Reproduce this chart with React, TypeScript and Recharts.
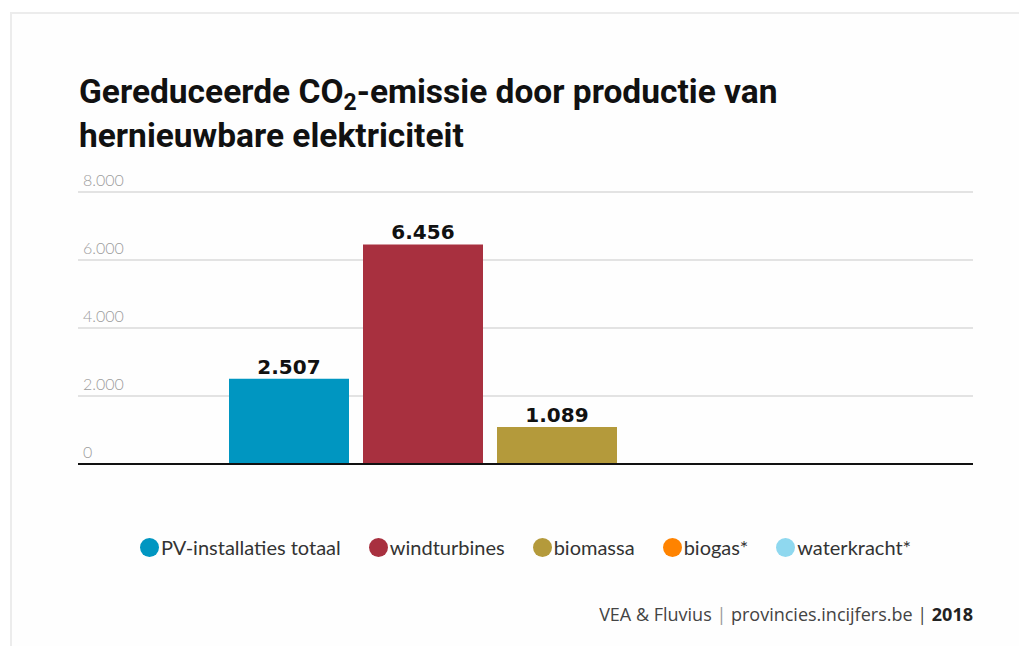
import React from 'react';
import { BarChart, Bar, XAxis, YAxis, CartesianGrid, LabelList, ReferenceLine } from 'recharts';

const categories = ['2018'];
const seriesKeys = ['pv', 'wind', 'biomassa', 'biogas', 'water'];
const seriesNames = ['PV-installaties totaal', 'windturbines', 'biomassa', 'biogas*', 'waterkracht*'];
const seriesColors = ['#0096c1', '#a8303f', '#b49a3b', '#ff8300', '#8fd8ef'];
const seriesValues: (number | null)[] = [2507, 6456, 1089, null, null];
const yTicks = [0, 2000, 4000, 6000, 8000];

const data = categories.map((name) => {
  const row: any = { name };
  seriesKeys.forEach((k, i) => {
    row[k] = seriesValues[i];
  });
  return row;
});

const fmt = (v: any) =>
  v == null ? '' : String(v).replace(/\B(?=(\d{3})+(?!\d))/g, '.');

const plotLeft = 78;
const plotRight = 973;
const plotTop = 192;
const plotBottom = 464;
const W = 1027;
const H = 654;

const renderYTick = (props: any) => {
  const { y, payload } = props;
  return (
    <text
      key={payload.value}
      x={plotLeft + 5}
      y={y - 6}
      fill="#9c9c9c"
      fontSize={16}
      fontFamily="Lato, sans-serif"
      fontWeight={300}
      textAnchor="start"
    >
      {fmt(payload.value)}
    </text>
  );
};

const ChartLegend = () => (
  <div
    style={{
      position: 'absolute',
      left: plotLeft,
      width: plotRight - plotLeft,
      top: 535,
      display: 'flex',
      justifyContent: 'center',
      alignItems: 'center',
      fontFamily: 'Lato, sans-serif',
      fontSize: 20,
      color: '#333',
    }}
  >
    {seriesNames.map((n, i) => (
      <div
        key={n}
        style={{ display: 'flex', alignItems: 'center', marginRight: i < seriesNames.length - 1 ? 28 : 0 }}
      >
        <span
          style={{
            display: 'inline-block',
            width: 19,
            height: 19,
            borderRadius: '50%',
            background: seriesColors[i],
            marginRight: 2,
          }}
        />
        <span>{n}</span>
      </div>
    ))}
  </div>
);

export default function App() {
  return (
    <div
      style={{
        position: 'relative',
        width: W,
        height: H,
        margin: -8,
        overflow: 'hidden',
        background: '#fff',
      }}
    >
      <div
        style={{
          position: 'absolute',
          left: 10,
          top: 12,
          width: 1100,
          height: 700,
          border: '2px solid #ececec',
          background: '#fefefe',
        }}
      />
      <div
        style={{
          position: 'absolute',
          left: 79,
          top: 70,
          fontFamily: 'Roboto, sans-serif',
          fontWeight: 700,
          fontSize: 33.5,
          lineHeight: '44px',
          color: '#111',
          whiteSpace: 'nowrap',
        }}
      >
        Gereduceerde CO<sub style={{ fontSize: 23, lineHeight: 0, verticalAlign: '-7px' }}>2</sub>-emissie door
        productie van
        <br />
        hernieuwbare elektriciteit
      </div>
      <div style={{ position: 'absolute', left: 0, top: 0 }}>
        <BarChart
          width={W}
          height={H}
          data={data}
          barSize={120}
          barGap={14}
          margin={{ top: plotTop, left: plotLeft, right: W - plotRight, bottom: H - plotBottom }}
        >
          <CartesianGrid vertical={false} stroke="#e3e3e3" strokeWidth={2} />
          <YAxis
            mirror
            width={60}
            domain={[0, 8000]}
            ticks={yTicks}
            axisLine={false}
            tickLine={false}
            tick={renderYTick}
            interval={0}
          />
          <XAxis
            dataKey="name"
            height={0}
            tick={false}
            tickLine={false}
            axisLine={false}
            padding={{ left: 63, right: 0 }}
          />
          <ReferenceLine y={0} stroke="#111" strokeWidth={2} />
          {seriesKeys.map((k, i) => (
            <Bar
              key={k}
              dataKey={k}
              name={seriesNames[i]}
              fill={seriesColors[i]}
              isAnimationActive={false}
            >
              <LabelList
                dataKey={k}
                position="top"
                offset={5}
                formatter={fmt}
                fill="#111"
                fontSize={20}
                fontWeight={700}
                fontFamily="DejaVu Sans, sans-serif"
              />
            </Bar>
          ))}
        </BarChart>
      </div>
      <ChartLegend />
      <div
        style={{
          position: 'absolute',
          right: W - plotRight,
          top: 602,
          fontFamily: '"Open Sans", sans-serif',
          fontSize: 18,
          color: '#444',
          whiteSpace: 'nowrap',
        }}
      >
        VEA &amp; Fluvius <span style={{ color: '#999' }}>|</span> provincies.incijfers.be |{' '}
        <b style={{ color: '#222' }}>2018</b>
      </div>
    </div>
  );
}
